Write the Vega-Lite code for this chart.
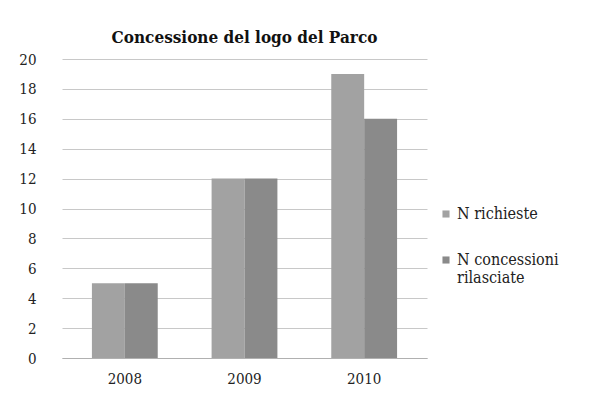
{
  "$schema": "https://vega.github.io/schema/vega-lite/v6.json",
  "width": 365,
  "height": 299,
  "autosize": {"type": "none"},
  "padding": {"left": 62, "top": 59, "right": 166, "bottom": 51},
  "background": "white",
  "title": {
    "text": "Concessione del logo del Parco",
    "font": "DejaVu Serif Condensed",
    "fontSize": 17,
    "fontWeight": "bold",
    "color": "#111111",
    "anchor": "middle",
    "offset": 5
  },
  "data": {
    "values": [
      {"anno": "2008", "serie": "N richieste", "valore": 5},
      {"anno": "2008", "serie": "N concessioni rilasciate", "valore": 5},
      {"anno": "2009", "serie": "N richieste", "valore": 12},
      {"anno": "2009", "serie": "N concessioni rilasciate", "valore": 12},
      {"anno": "2010", "serie": "N richieste", "valore": 19},
      {"anno": "2010", "serie": "N concessioni rilasciate", "valore": 16}
    ]
  },
  "mark": {"type": "bar"},
  "encoding": {
    "x": {
      "field": "anno",
      "type": "nominal",
      "scale": {"paddingInner": 0.45, "paddingOuter": 0.25},
      "axis": {
        "title": null,
        "labelAngle": 0,
        "labelFont": "DejaVu Serif Condensed",
        "labelFontSize": 15,
        "labelColor": "#222222",
        "labelPadding": 13,
        "ticks": false,
        "domainColor": "#b0b0b0"
      }
    },
    "xOffset": {"field": "serie", "type": "nominal", "sort": ["N richieste", "N concessioni rilasciate"]},
    "y": {
      "field": "valore",
      "type": "quantitative",
      "scale": {"domain": [0, 20]},
      "axis": {
        "title": null,
        "values": [0, 2, 4, 6, 8, 10, 12, 14, 16, 18, 20],
        "labelFont": "DejaVu Serif Condensed",
        "labelFontSize": 15,
        "labelColor": "#222222",
        "labelPadding": 26,
        "ticks": false,
        "domain": false,
        "gridColor": "#c8c8c8"
      }
    },
    "color": {
      "field": "serie",
      "type": "nominal",
      "sort": ["N richieste", "N concessioni rilasciate"],
      "scale": {"domain": ["N richieste", "N concessioni rilasciate"], "range": ["#a2a2a2", "#8a8a8a"]},
      "legend": {
        "title": null,
        "orient": "none",
        "legendX": 376,
        "legendY": 147,
        "symbolType": "square",
        "symbolSize": 50,
        "labelFont": "DejaVu Serif Condensed",
        "labelFontSize": 16,
        "labelColor": "#222222",
        "labelOffset": 3,
        "rowPadding": 30,
        "labelExpr": "datum.label == 'N concessioni rilasciate' ? ['N concessioni', 'rilasciate'] : datum.label"
      }
    }
  },
  "config": {"view": {"stroke": null}}
}
